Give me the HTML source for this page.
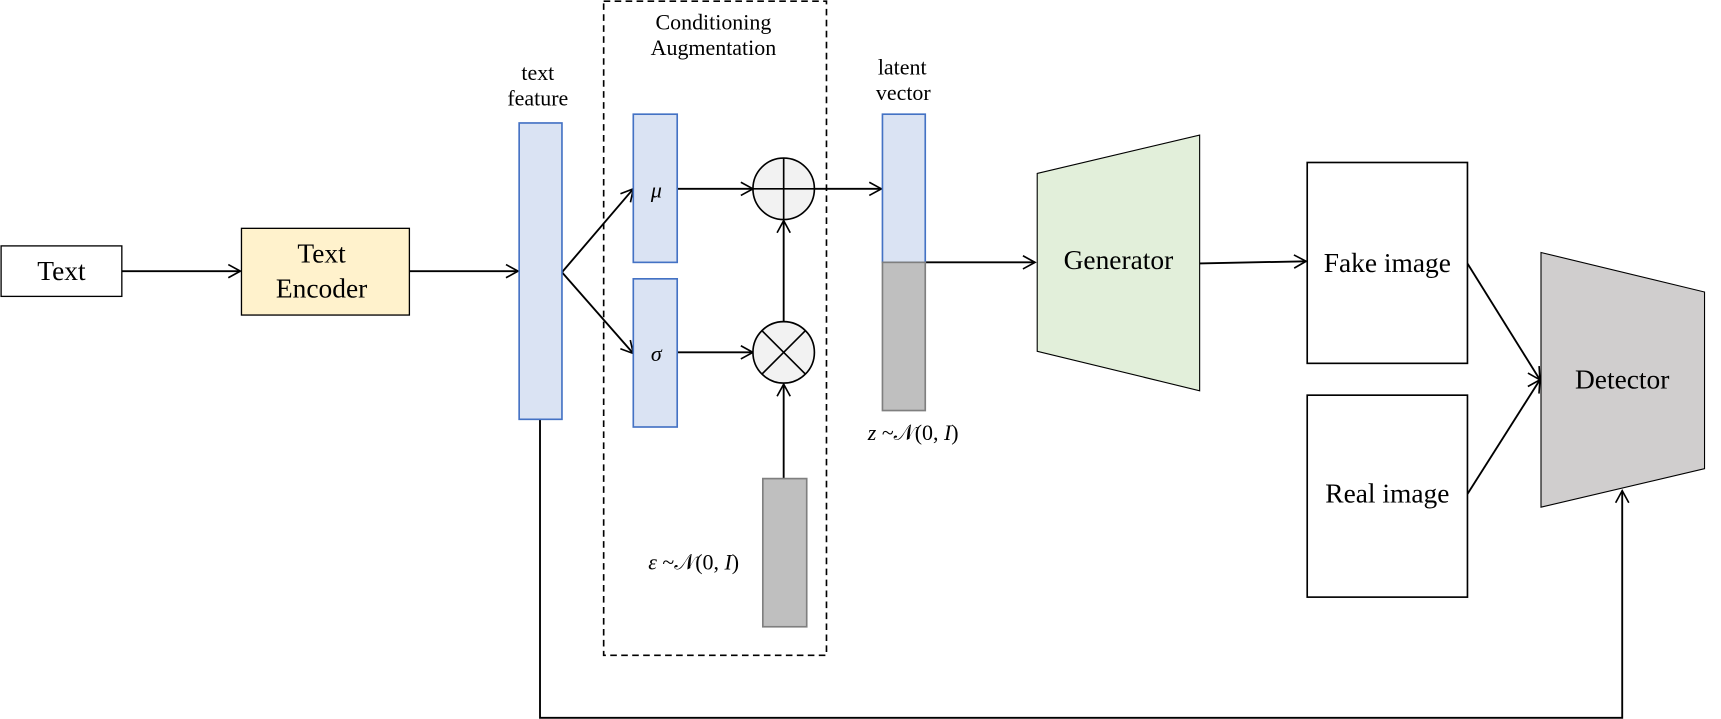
<!DOCTYPE html>
<html><head><meta charset="utf-8"><style>html,body{margin:0;padding:0;background:#fff}svg{display:block}</style></head>
<body>
<svg width="1721" height="719" viewBox="0 0 1568 655" xmlns="http://www.w3.org/2000/svg" font-family="'Liberation Serif', serif">
<defs>
<marker id="a" markerWidth="14" markerHeight="14" refX="12" refY="7" orient="auto" markerUnits="userSpaceOnUse">
<path d="M1,1 L12,7 L1,13" fill="none" stroke="#000" stroke-width="1.5"/>
</marker>
</defs>
<g stroke="#000" stroke-width="1.7" fill="none">
<line x1="111" y1="247" x2="219" y2="247" marker-end="url(#a)"/>
<line x1="373" y1="247" x2="472" y2="247" marker-end="url(#a)"/>
<line x1="512" y1="248" x2="577" y2="172" marker-end="url(#a)"/>
<line x1="512" y1="248" x2="577" y2="322" marker-end="url(#a)"/>
<line x1="617" y1="172" x2="686" y2="172" marker-end="url(#a)"/>
<line x1="617" y1="321" x2="686" y2="321" marker-end="url(#a)"/>
<line x1="714" y1="293" x2="714" y2="201" marker-end="url(#a)"/>
<line x1="714" y1="436" x2="714" y2="350" marker-end="url(#a)"/>
<line x1="742" y1="172" x2="803" y2="172" marker-end="url(#a)"/>
<line x1="843" y1="239" x2="943" y2="239" marker-end="url(#a)"/>
<line x1="1093" y1="240" x2="1190" y2="238" marker-end="url(#a)"/>
<line x1="1337" y1="240" x2="1403" y2="346" marker-end="url(#a)"/>
<line x1="1337" y1="450" x2="1403" y2="346" marker-end="url(#a)"/>
<polyline points="492,382 492,654 1478,654 1478,447" marker-end="url(#a)"/>
</g>
<rect x="1" y="224" width="110" height="46" fill="#fff" stroke="#000" stroke-width="1.2"/>
<rect x="220" y="208" width="153" height="79" fill="#fff2cc" stroke="#000" stroke-width="1.2"/>
<rect x="473" y="112" width="39" height="270" fill="#dae3f3" stroke="#4472c4" stroke-width="1.5"/>
<rect x="550" y="1" width="203" height="596" fill="none" stroke="#000" stroke-width="1.5" stroke-dasharray="6,4"/>
<rect x="577" y="104" width="40" height="135" fill="#dae3f3" stroke="#4472c4" stroke-width="1.5"/>
<rect x="577" y="254" width="40" height="135" fill="#dae3f3" stroke="#4472c4" stroke-width="1.5"/>
<circle cx="714" cy="172" r="28" fill="#f2f2f2" stroke="#000" stroke-width="1.5"/>
<line x1="686" y1="172" x2="742" y2="172" stroke="#000" stroke-width="1.5"/>
<line x1="714" y1="144" x2="714" y2="200" stroke="#000" stroke-width="1.5"/>
<circle cx="714" cy="321" r="28" fill="#f2f2f2" stroke="#000" stroke-width="1.5"/>
<line x1="694" y1="301" x2="734" y2="341" stroke="#000" stroke-width="1.5"/>
<line x1="734" y1="301" x2="694" y2="341" stroke="#000" stroke-width="1.5"/>
<rect x="695" y="436" width="40" height="135" fill="#bfbfbf" stroke="#7f7f7f" stroke-width="1.5"/>
<rect x="804" y="104" width="39" height="135" fill="#dae3f3" stroke="#4472c4" stroke-width="1.5"/>
<rect x="804" y="239" width="39" height="135" fill="#bfbfbf" stroke="#7f7f7f" stroke-width="1.5"/>
<polygon points="945,158 1093,123 1093,356 945,320" fill="#e2efda" stroke="#000" stroke-width="1"/>
<rect x="1191" y="148" width="146" height="183" fill="#fff" stroke="#000" stroke-width="1.5"/>
<rect x="1191" y="360" width="146" height="184" fill="#fff" stroke="#000" stroke-width="1.5"/>
<polygon points="1404,230 1553,266 1553,427 1404,462" fill="#d0cece" stroke="#000" stroke-width="1"/>
<g text-anchor="middle" fill="#000">
<text x="56" y="255" font-size="25">Text</text>
<text x="293" y="239" font-size="25">Text</text>
<text x="293" y="271" font-size="25">Encoder</text>
<text x="490" y="73" font-size="20">text</text>
<text x="490" y="96" font-size="20">feature</text>
<text x="650" y="27" font-size="20">Conditioning</text>
<text x="650" y="50" font-size="20">Augmentation</text>
<text x="822" y="68" font-size="20">latent</text>
<text x="823" y="91" font-size="20">vector</text>
<text x="598" y="180" font-size="20" font-style="italic">μ</text>
<text x="598" y="329" font-size="20" font-style="italic">σ</text>
<text x="632" y="519" font-size="20"><tspan font-style="italic">ε</tspan> ~𝒩(0, <tspan font-style="italic">I</tspan>)</text>
<text x="832" y="401" font-size="20"><tspan font-style="italic">z</tspan> ~𝒩(0, <tspan font-style="italic">I</tspan>)</text>
<text x="1019" y="245" font-size="25">Generator</text>
<text x="1264" y="248" font-size="25">Fake image</text>
<text x="1264" y="458" font-size="25">Real image</text>
<text x="1478" y="354" font-size="25">Detector</text>
</g>
</svg>
</body></html>
